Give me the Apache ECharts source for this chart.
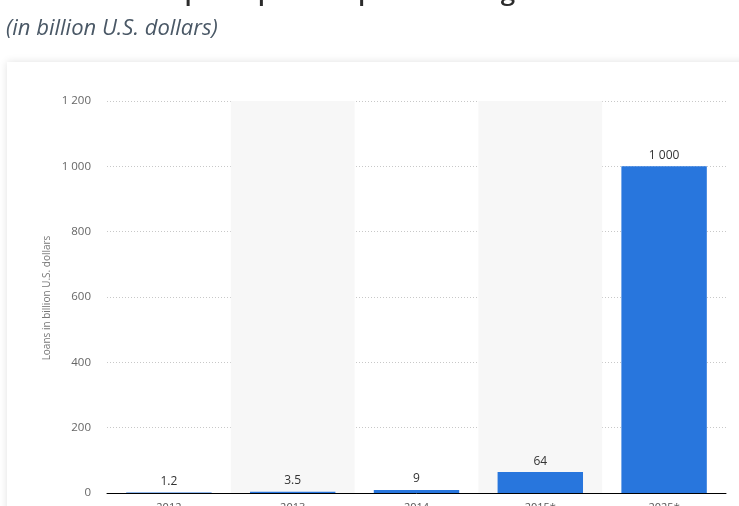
<!DOCTYPE html>
<html><head><meta charset="utf-8">
<script src="https://cdn.jsdelivr.net/npm/echarts@6/dist/echarts.min.js"></script>
<style>html,body{margin:0;padding:0;background:#fff;}#c{width:739px;height:506px;}</style>
</head><body><div id="c"></div>
<script>
const categories = ['2012', '2013', '2014', '2015*', '2025*'];
const values = [1.2, 3.5, 9, 64, 1000];
const yTicks = [0, 200, 400, 600, 800, 1000, 1200];
const titleText = 'Global marketplace peer-to-peer lending volume 2012 to 2025';
const subtitleText = '(in billion U.S. dollars)';
const yAxisName = 'Loans in billion U.S. dollars';

function fmt(v){ return String(v).replace(/\B(?=(\d{3})+(?!\d))/g, ' '); }

const chart = echarts.init(document.getElementById('c'), null, {renderer:'canvas'});
chart.setOption({
  backgroundColor: '#fff',
  animation: false,
  graphic: [
    {type:'rect', shape:{x:7, y:62, width:760, height:470}, style:{fill:'#fff', shadowBlur:8, shadowColor:'rgba(0,0,0,0.12)'}, z:-10},
    {type:'text', left:6, top:-20, style:{text:titleText, font:'600 26px "Open Sans", sans-serif', fill:'#2b2b2b'}},
    {type:'text', left:6, top:18, style:{text:subtitleText, font:'italic 22px "Open Sans", sans-serif', fill:'#4a5866'}},
    {type:'text', rotation:Math.PI/2, x:47, y:298, style:{text:yAxisName, font:'10px "Open Sans", sans-serif', fill:'#777', align:'center', verticalAlign:'middle'}}
  ],
  grid: {left:107, right:13, top:101, bottom:13, containLabel:false, outerBoundsMode:'none'},
  xAxis: {
    type:'category', data: categories,
    axisLine:{lineStyle:{color:'#000', width:1}},
    axisTick:{show:false},
    axisLabel:{margin:9, color:'#555', fontSize:11, fontFamily:'Open Sans'},
    splitArea:{show:true, areaStyle:{color:['rgba(255,255,255,0)','#f7f7f7']}}
  },
  yAxis: {
    type:'value', min:0, max:1200, interval:200,
    axisLine:{show:false}, axisTick:{show:false},
    axisLabel:{margin:16, color:'#666', fontSize:11.5, fontFamily:'Open Sans', formatter: v => yTicks.includes(v) ? fmt(v) : ''},
    splitLine:{lineStyle:{color:'#c8c8c8', type:[1,2], width:1}}
  },
  series: [{
    type:'bar', data: values, barWidth:'69%',
    itemStyle:{color:'#2876dd'},
    label:{show:true, position:'top', distance:5, color:'#333', fontSize:12, fontFamily:'Open Sans', formatter: p => fmt(p.value)}
  }]
});
</script></body></html>
